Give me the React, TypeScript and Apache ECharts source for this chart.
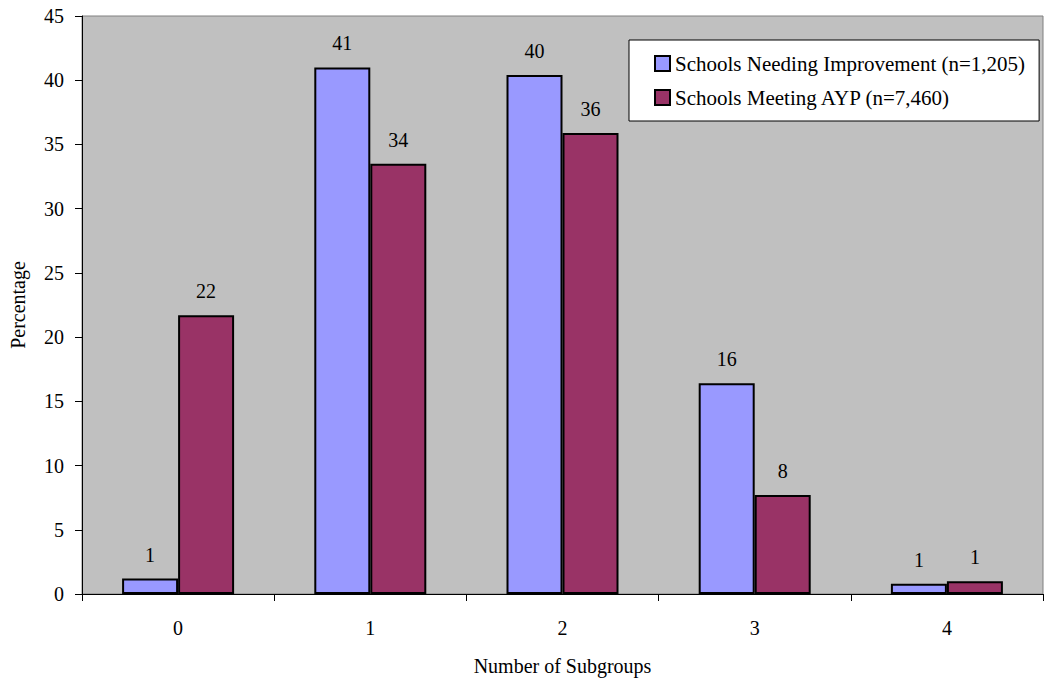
import React, { useEffect, useRef } from "react";
import * as echarts from "echarts";

const categories = ["0", "1", "2", "3", "4"];
const needingImprovement = [1.2, 41.0, 40.4, 16.4, 0.8];
const meetingAYP = [21.7, 33.5, 35.9, 7.7, 1.0];
const seriesNames = [
  "Schools Needing Improvement (n=1,205)",
  "Schools Meeting AYP (n=7,460)",
];
const yTicks = { min: 0, max: 45, interval: 5 };

const FONT = "Liberation Serif";

export default function App() {
  const ref = useRef<HTMLDivElement>(null);
  useEffect(() => {
    if (!ref.current) return;
    const chart = echarts.init(ref.current, undefined, { renderer: "svg" });
    const label = {
      show: true,
      position: "top",
      distance: 14,
      color: "#000",
      fontFamily: FONT,
      fontSize: 20,
      formatter: (p: any) => String(Math.round(p.value)),
    };
    chart.setOption({
      animation: false,
      backgroundColor: "#fff",
      textStyle: { fontFamily: FONT, color: "#000" },
      grid: {
        left: 81,
        right: 1,
        top: 16,
        bottom: 81,
        show: true,
        backgroundColor: "#C0C0C0",
        borderColor: "#808080",
        borderWidth: 1,
      },
      legend: {
        orient: "vertical",
        left: 629,
        top: 40,
        padding: [13, 14, 13, 25],
        itemGap: 13,
        itemWidth: 15,
        itemHeight: 15,
        icon: "rect",
        backgroundColor: "#fff",
        borderColor: "#000",
        borderWidth: 1,
        textStyle: { fontFamily: FONT, fontSize: 21, color: "#000" },
        data: seriesNames,
      },
      xAxis: {
        type: "category",
        data: categories,
        name: "Number of Subgroups",
        nameLocation: "middle",
        nameGap: 62,
        nameTextStyle: { fontFamily: FONT, fontSize: 20, color: "#000" },
        axisLine: { lineStyle: { color: "#000", width: 1 } },
        axisTick: { show: true, length: 7, lineStyle: { color: "#000" } },
        axisLabel: { fontFamily: FONT, fontSize: 20, color: "#000", margin: 24 },
      },
      yAxis: {
        type: "value",
        min: yTicks.min,
        max: yTicks.max,
        interval: yTicks.interval,
        name: "Percentage",
        nameLocation: "middle",
        nameGap: 54,
        nameRotate: 90,
        nameTextStyle: { fontFamily: FONT, fontSize: 20, color: "#000" },
        axisLine: { show: true, lineStyle: { color: "#000", width: 1 } },
        axisTick: { show: true, length: 7, lineStyle: { color: "#000" } },
        axisLabel: { fontFamily: FONT, fontSize: 20, color: "#000", margin: 18 },
        splitLine: { show: false },
      },
      series: [
        {
          name: seriesNames[0],
          type: "bar",
          data: needingImprovement,
          barWidth: 56,
          barGap: "0%",
          itemStyle: { color: "#9999FF", borderColor: "#000", borderWidth: 2 },
          label,
        },
        {
          name: seriesNames[1],
          type: "bar",
          data: meetingAYP,
          barWidth: 56,
          barGap: "0%",
          itemStyle: { color: "#993366", borderColor: "#000", borderWidth: 2 },
          label,
        },
      ],
    });
    return () => chart.dispose();
  }, []);
  return (
    <div
      ref={ref}
      style={{ position: "fixed", left: 0, top: 0, width: 1044, height: 681 }}
    />
  );
}
